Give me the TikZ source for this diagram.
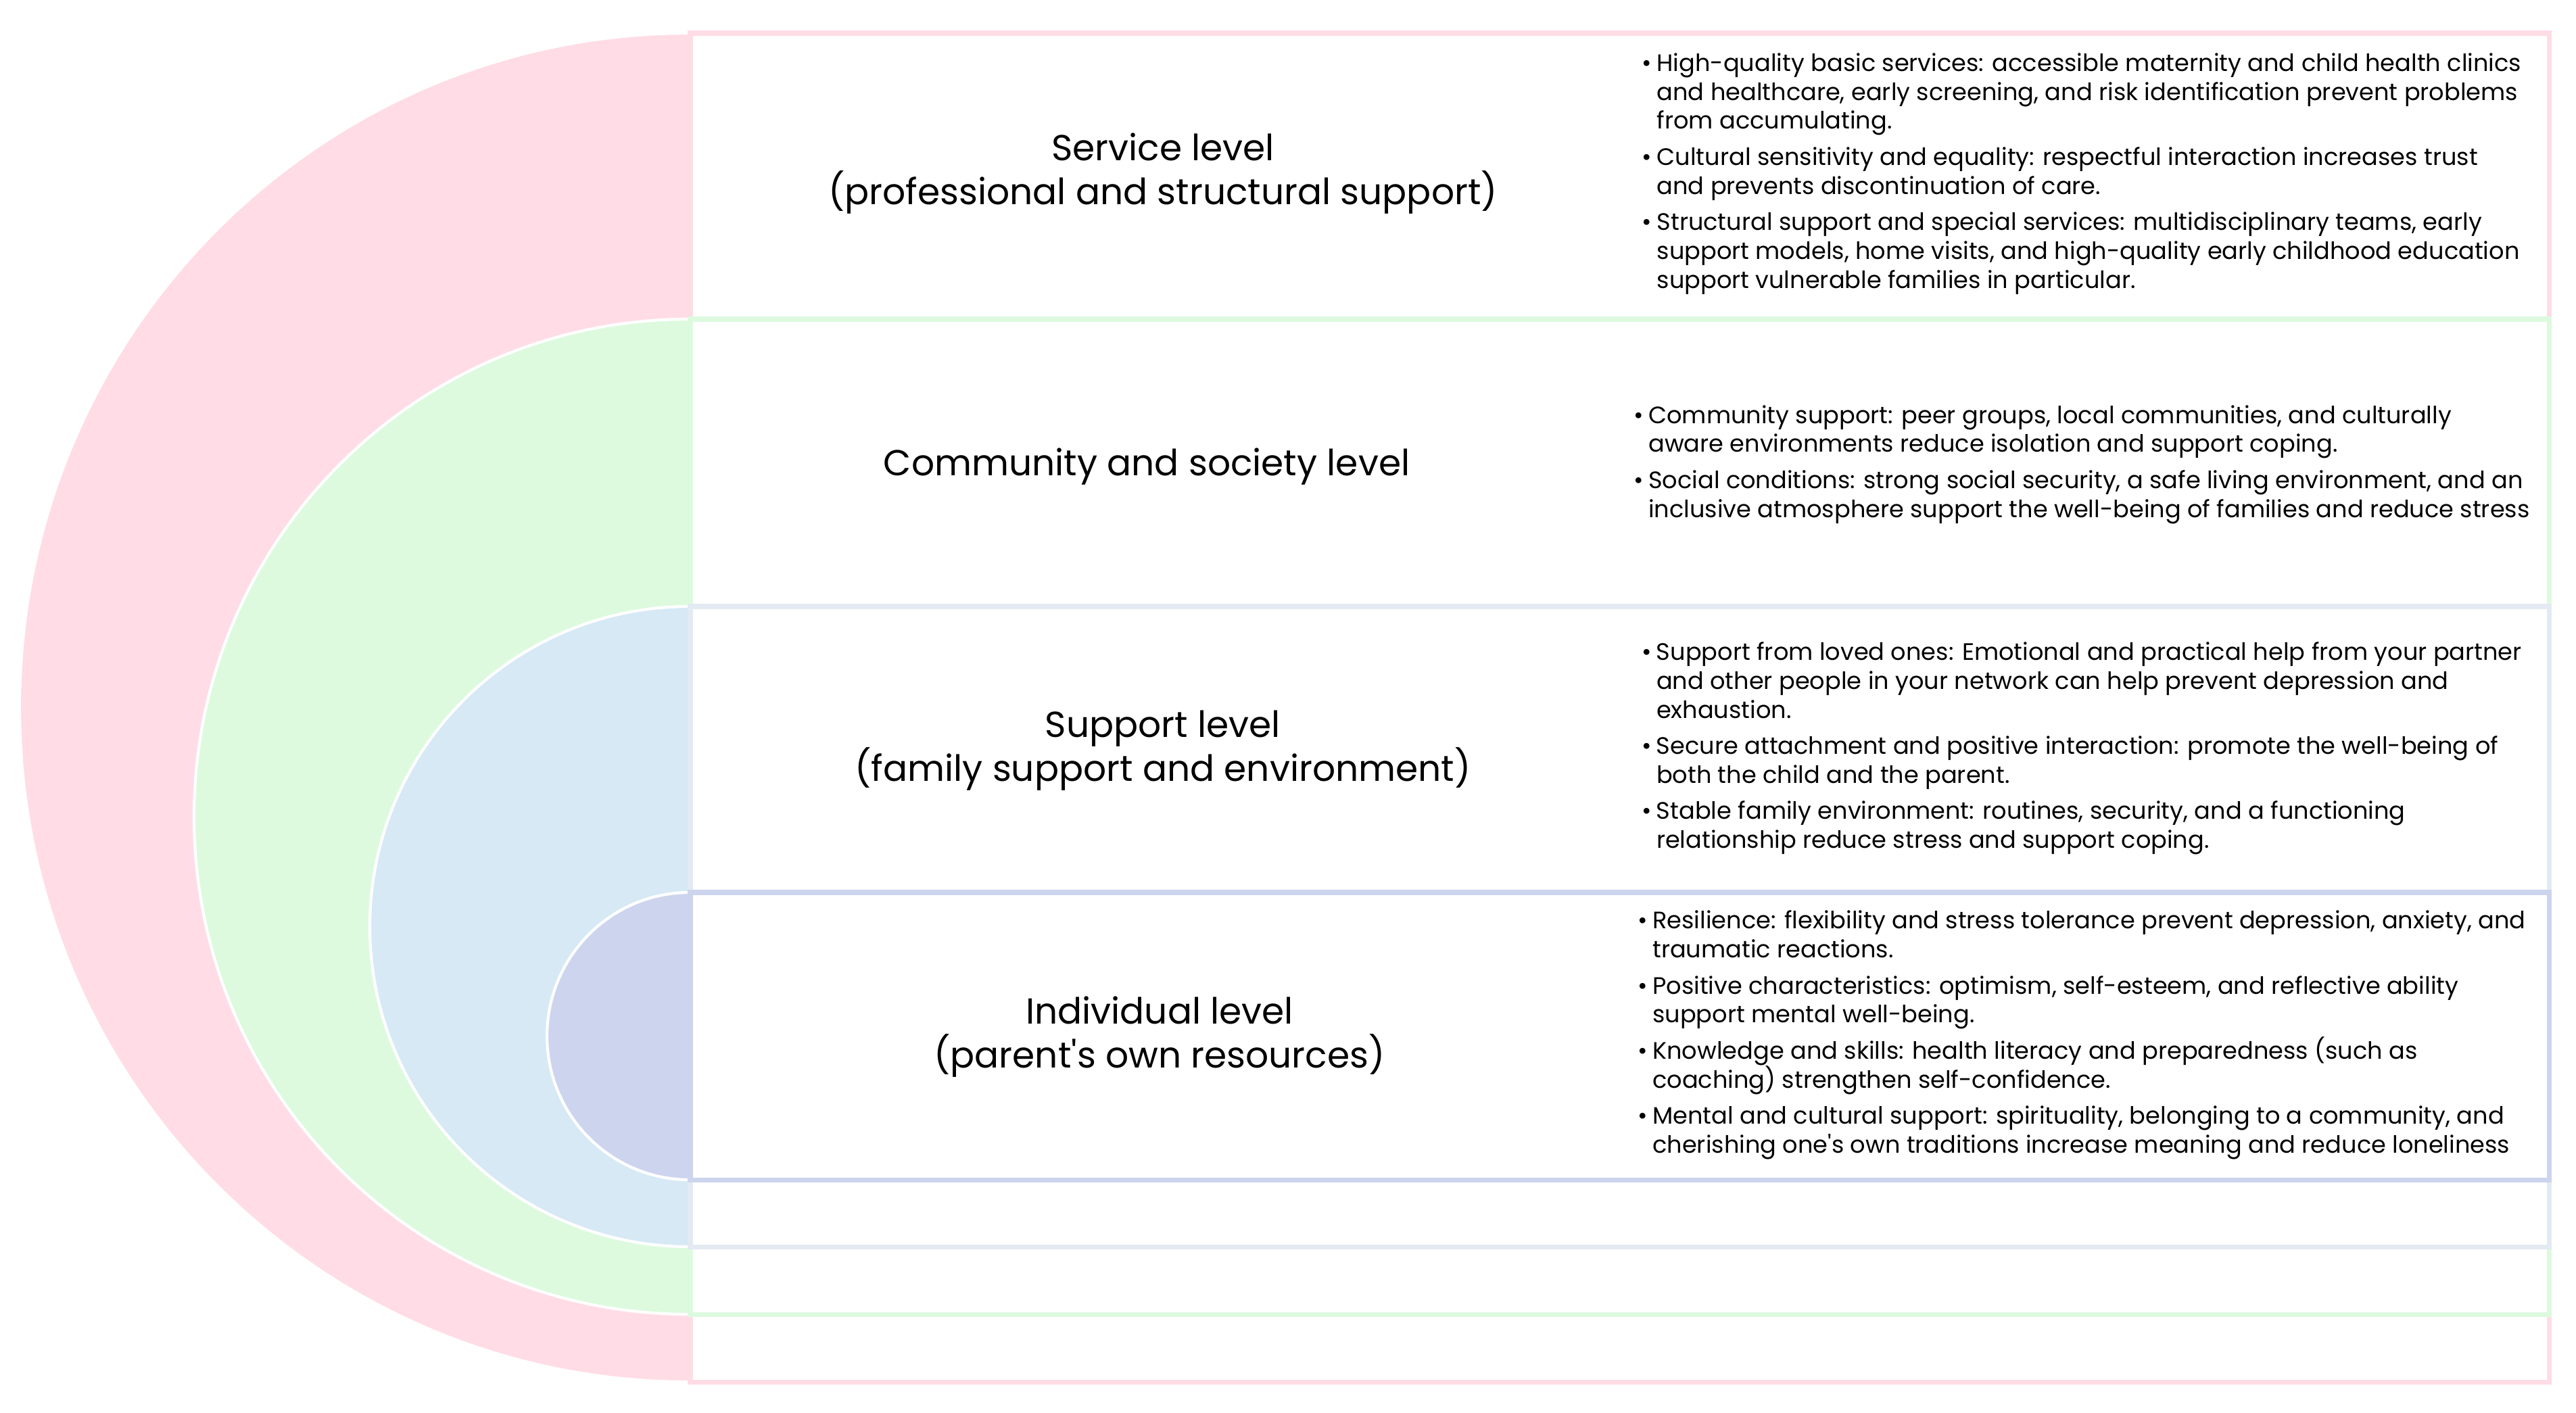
\documentclass[tikz,border=0pt]{standalone}
\usepackage{fontspec}
\setmainfont{Poppins}
\definecolor{svccol}{HTML}{FFDCE6}
\definecolor{comcol}{HTML}{DDFADF}
\definecolor{supcol}{HTML}{D6E9F5}
\definecolor{supline}{HTML}{E3EAF2}
\definecolor{indcol}{HTML}{CDD4EE}
\newcommand{\bul}{\makebox[0.62em][l]{\textbullet}}
\newcommand{\ind}{\hspace*{0.62em}}
\begin{document}
\begin{tikzpicture}[
      levelbox/.style={line width=2pt, fill=white},
      halfdisc/.style={draw=white, line width=1.2pt},
      heading/.style={align=center, font=\fontsize{15.2}{18.5}\selectfont},
      points/.style={align=left, font=\fontsize{10}{12.2}\selectfont}
    ]
    \useasboundingbox (0,0) rectangle (38.1,-20.9);
    % service level
    \draw[halfdisc, fill=svccol] (10.2,-0.49) arc (90:270:9.91 and 9.975) -- cycle;
    \draw[levelbox, draw=svccol] (10.21,-0.49) rectangle (37.70,-20.44);
    % community level
    \draw[halfdisc, fill=comcol] (10.2,-4.72) arc (90:270:7.33 and 7.36) -- cycle;
    \draw[levelbox, draw=comcol] (10.21,-4.72) rectangle (37.70,-19.44);
    % support level
    \draw[halfdisc, fill=supcol] (10.2,-8.97) arc (90:270:4.73 and 4.735) -- cycle;
    \draw[levelbox, draw=supline] (10.21,-8.97) rectangle (37.70,-18.44);
    % individual level
    \draw[halfdisc, fill=indcol] (10.2,-13.2) arc (90:270:2.11 and 2.125) -- cycle;
    \draw[levelbox, draw=indcol] (10.21,-13.2) rectangle (37.70,-17.45);
    % headings
    \node[heading] (svchead) at (17.2,-2.57) {Service level\\(professional and structural support)};
    \node[heading] (comhead) at (16.96,-6.9) {Community and society level};
    \node[heading] (suphead) at (17.2,-11.1) {Support level\\(family support and environment)};
    \node[heading] (indhead) at (17.15,-15.34) {Individual level\\(parent\textquotesingle s own resources)};
    % bullet texts
    \node[points] (svcpts) at (30.79,-2.57) {%
      \bul High-quality basic services: accessible maternity and child health clinics\\
      \ind and healthcare, early screening, and risk identification prevent problems\\
      \ind from accumulating.\\[3pt]
      \bul Cultural sensitivity and equality: respectful interaction increases trust\\
      \ind and prevents discontinuation of care.\\[3pt]
      \bul Structural support and special services: multidisciplinary teams, early\\
      \ind support models, home visits, and high-quality early childhood education\\
      \ind support vulnerable families in particular.};
    \node[points] (compts) at (30.79,-6.87) {%
      \bul Community support: peer groups, local communities, and culturally\\
      \ind aware environments reduce isolation and support coping.\\[3pt]
      \bul Social conditions: strong social security, a safe living environment, and an\\
      \ind inclusive atmosphere support the well-being of families and reduce stress};
    \node[points] (suppts) at (30.79,-11.07) {%
      \bul Support from loved ones: Emotional and practical help from your partner\\
      \ind and other people in your network can help prevent depression and\\
      \ind exhaustion.\\[3pt]
      \bul Secure attachment and positive interaction: promote the well-being of\\
      \ind both the child and the parent.\\[3pt]
      \bul Stable family environment: routines, security, and a functioning\\
      \ind relationship reduce stress and support coping.};
    \node[points] (indpts) at (30.79,-15.31) {%
      \bul Resilience: flexibility and stress tolerance prevent depression, anxiety, and\\
      \ind traumatic reactions.\\[3pt]
      \bul Positive characteristics: optimism, self-esteem, and reflective ability\\
      \ind support mental well-being.\\[3pt]
      \bul Knowledge and skills: health literacy and preparedness (such as\\
      \ind coaching) strengthen self-confidence.\\[3pt]
      \bul Mental and cultural support: spirituality, belonging to a community, and\\
      \ind cherishing one\textquotesingle s own traditions increase meaning and reduce loneliness};
  \end{tikzpicture}
\end{document}
